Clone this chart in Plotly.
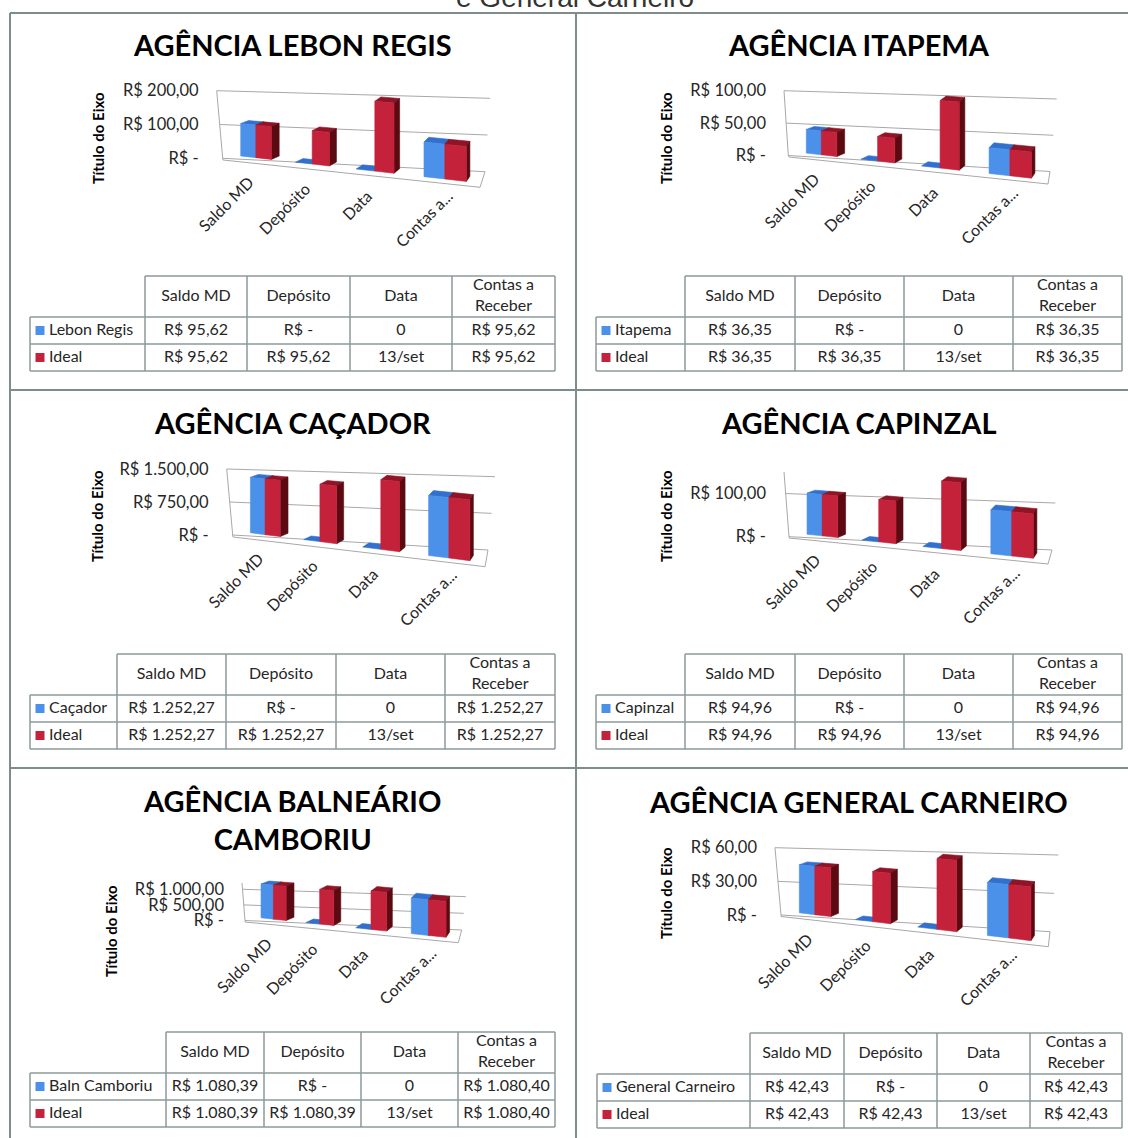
import plotly.graph_objects as go

# ---------------- DATA ----------------
categories = ["Saldo MD", "Depósito", "Data", "Contas a..."]
table_headers = ["Saldo MD", "Depósito", "Data", "Contas a<br>Receber"]
agencias = ["Lebon Regis", "Itapema", "Caçador", "Capinzal", "Baln Camboriu", "General Carneiro"]
titulos = ["AGÊNCIA LEBON REGIS", "AGÊNCIA ITAPEMA", "AGÊNCIA CAÇADOR", "AGÊNCIA CAPINZAL",
           "AGÊNCIA BALNEÁRIO<br>CAMBORIU", "AGÊNCIA GENERAL CARNEIRO"]
serie_ideal = "Ideal"

agencia_values = [
    [95.62, 0, 0, 95.62],
    [36.35, 0, 0, 36.35],
    [1252.27, 0, 0, 1252.27],
    [94.96, 0, 0, 94.96],
    [1080.39, 0, 0, 1080.40],
    [42.43, 0, 0, 42.43],
]
ideal_values = [
    [95.62, 95.62, 196, 95.62],
    [36.35, 36.35, 97, 36.35],
    [1252.27, 1252.27, 1480, 1252.27],
    [94.96, 94.96, 148, 94.96],
    [1080.39, 1080.39, 1180, 1080.40],
    [42.43, 42.43, 58, 42.43],
]
agencia_text = [
    ["R$ 95,62", "R$ -", "0", "R$ 95,62"],
    ["R$ 36,35", "R$ -", "0", "R$ 36,35"],
    ["R$ 1.252,27", "R$ -", "0", "R$ 1.252,27"],
    ["R$ 94,96", "R$ -", "0", "R$ 94,96"],
    ["R$ 1.080,39", "R$ -", "0", "R$ 1.080,40"],
    ["R$ 42,43", "R$ -", "0", "R$ 42,43"],
]
ideal_text = [
    ["R$ 95,62", "R$ 95,62", "13/set", "R$ 95,62"],
    ["R$ 36,35", "R$ 36,35", "13/set", "R$ 36,35"],
    ["R$ 1.252,27", "R$ 1.252,27", "13/set", "R$ 1.252,27"],
    ["R$ 94,96", "R$ 94,96", "13/set", "R$ 94,96"],
    ["R$ 1.080,39", "R$ 1.080,39", "13/set", "R$ 1.080,40"],
    ["R$ 42,43", "R$ 42,43", "13/set", "R$ 42,43"],
]
axis_max = [200, 100, 1500, 150, 1200, 60]
axis_ticks = [[0, 100, 200], [0, 50, 100], [0, 750, 1500], [0, 100], [0, 500, 1000], [0, 30, 60]]
axis_ticktext = [
    ["R$ -", "R$ 100,00", "R$ 200,00"],
    ["R$ -", "R$ 50,00", "R$ 100,00"],
    ["R$ -", "R$ 750,00", "R$ 1.500,00"],
    ["R$ -", "R$ 100,00"],
    ["R$ -", "R$ 500,00", "R$ 1.000,00"],
    ["R$ -", "R$ 30,00", "R$ 60,00"],
]
axis_title = "Título do Eixo"
page_title_tail = "e General Carneiro"

# ---------------- LAYOUT / GEOMETRY (pixels) ----------------
W, H = 1128, 1138
GEO = [
    dict(BTL=(216.7, 90.7), BFL=(222.7, 158.3), BTR=(490, 98.3), BFR=(485, 171.7), FFL=(223, 160), FFR=(480, 187.3),
         ax_x=(12, 574), ax_y=(62, 386), title=(292, 45), ytitle=(98, 138), tx=[30, 145, 247, 350, 452, 555], ty=276),
    dict(BTL=(784, 90.7), BFL=(788.3, 155.5), BTR=(1056.7, 99), BFR=(1050, 171.5), FFL=(789, 157), FFR=(1048, 184),
         ax_x=(578, 1126), ax_y=(62, 386), title=(859, 45), ytitle=(666, 138), tx=[596, 685, 795, 904, 1013, 1122], ty=276),
    dict(BTL=(226.7, 469), BFL=(232.7, 535), BTR=(495, 476.7), BFR=(488, 550), FFL=(233, 537), FFR=(485, 566.7),
         ax_x=(12, 574), ax_y=(440, 764), title=(292, 423), ytitle=(97, 516), tx=[30, 117, 226, 336, 445, 555], ty=654),
    dict(BTL=(784, 472), BFL=(789, 536.7), BTR=(1057, 479.5), BFR=(1052, 550), FFL=(789, 538), FFR=(1048, 564),
         ax_x=(578, 1126), ax_y=(440, 764), title=(859, 423), ytitle=(666, 516), tx=[596, 685, 795, 904, 1013, 1122], ty=654),
    dict(BTL=(242, 883), BFL=(245, 920.5), BTR=(466.7, 890), BFR=(461.7, 930), FFL=(245, 922), FFR=(458.3, 942.7),
         ax_x=(12, 574), ax_y=(860, 1137), title=(292, 819.5), ytitle=(111, 931), tx=[30, 166, 264, 361, 458, 555], ty=1032),
    dict(BTL=(775, 847.7), BFL=(781, 915), BTR=(1058.3, 855), BFR=(1050, 931.7), FFL=(781, 916.5), FFR=(1048.3, 946.7),
         ax_x=(578, 1126), ax_y=(825, 1137), title=(859, 801), ytitle=(666, 893), tx=[597, 750, 844, 937, 1030, 1122], ty=1033),
]
LABEL_DX = [4, 4, 4, 14]
LABEL_DY = [12, 12, 12, 5]
HEAD_H, ROW_H = 41, 27

BLUE_FRONT, BLUE_TOP, BLUE_SIDE = "#4B91EA", "#3170CC", "#24549A"
RED_FRONT, RED_TOP, RED_SIDE = "#C4213A", "#8E1426", "#5A0A10"
GRID = "#A8A8A8"
TBL_LINE = "#8C9A9A"
PANEL_LINE = "#7F8C8C"
FONT = "Lato"
TXT = "#262626"

G_PERSP = -0.195


def lerp(a, b, t):
    return (a[0] + (b[0] - a[0]) * t, a[1] + (b[1] - a[1]) * t)


def make_proj(g, vmax):
    xb0 = g["BFL"][0] + 7.0
    xb1 = g["BFR"][0] - 2.0
    yb0 = g["BFL"][1] - 3.6
    yb1 = g["FFR"][1] - 4.0
    sL = (g["BFL"][1] - g["BTL"][1]) / vmax
    sR = (g["BFR"][1] - g["BTR"][1]) / vmax
    A = xb1 * (1 + G_PERSP) - xb0

    def bx(u):
        return (A * u + xb0) / (1 + G_PERSP * u)

    def by(x):
        return yb0 + (x - xb0) * (yb1 - yb0) / (xb1 - xb0)

    def sc(u):
        return sL + (sR - sL) * u

    return bx, by, sc


def dep(u):
    return (8.0 - 5.0 * u * u, -(2.8 + 2.5 * u))


def add_poly(store, pts):
    for p in pts:
        store[0].append(p[0])
        store[1].append(p[1])
    store[0].append(pts[0][0])
    store[1].append(pts[0][1])
    store[0].append(None)
    store[1].append(None)


fig = go.Figure()
annotations = []
layout_axes = {}
BW = 0.0715

for k in range(6):
    g = GEO[k]
    vmax = axis_max[k]
    n = k + 1
    xr = "x" if n == 1 else f"x{n}"
    yr = "y" if n == 1 else f"y{n}"
    xkey = "xaxis" if n == 1 else f"xaxis{n}"
    ykey = "yaxis" if n == 1 else f"yaxis{n}"
    x0, x1 = g["ax_x"]
    y0, y1 = g["ax_y"]
    tickpix = [lerp(g["BFL"], g["BTL"], v / vmax)[1] for v in axis_ticks[k]]
    layout_axes[xkey] = dict(domain=[x0 / W, x1 / W], range=[x0, x1], visible=False, anchor=yr, fixedrange=True)
    layout_axes[ykey] = dict(domain=[1 - y1 / H, 1 - y0 / H], range=[y1, y0], anchor="free",
                             position=(g["BTL"][0] - 18) / W, showgrid=False, zeroline=False,
                             showline=False, ticks="", tickvals=tickpix, ticktext=axis_ticktext[k],
                             tickfont=dict(family=FONT, size=16.5, color=TXT), fixedrange=True)

    # walls / floor / gridlines
    lx, ly = [], []
    for seg in [(g["BFL"], g["BTL"]), (g["FFL"], g["FFR"]), (g["FFR"], g["BFR"]), (g["BFL"], g["FFL"])]:
        lx += [seg[0][0], seg[1][0], None]
        ly += [seg[0][1], seg[1][1], None]
    for v in axis_ticks[k]:
        a = lerp(g["BFL"], g["BTL"], v / vmax)
        b = lerp(g["BFR"], g["BTR"], v / vmax)
        lx += [a[0], b[0], None]
        ly += [a[1], b[1], None]
    fig.add_trace(go.Scatter(x=lx, y=ly, mode="lines", line=dict(color=GRID, width=1),
                             xaxis=xr, yaxis=yr, hoverinfo="skip", showlegend=False))

    bx, by, sc = make_proj(g, vmax)
    for series, vals, cols in [(0, agencia_values[k], (BLUE_TOP, BLUE_SIDE, BLUE_FRONT)),
                               (1, ideal_values[k], (RED_TOP, RED_SIDE, RED_FRONT))]:
        tops, sides, fronts = ([], []), ([], []), ([], [])
        for i, v in enumerate(vals):
            c = (i + 0.5) / 4
            u0, u1 = (c - BW, c) if series == 0 else (c, c + BW)
            xa, xb = bx(u0), bx(u1)
            ya, yb = by(xa), by(xb)
            ha, hb = v * sc(u0), v * sc(u1)
            da, db = dep(u0), dep(u1)
            add_poly(tops, [(xa, ya - ha), (xb, yb - hb), (xb + db[0], yb - hb + db[1]), (xa + da[0], ya - ha + da[1])])
            if v > 0:
                add_poly(sides, [(xb, yb), (xb + db[0], yb + db[1]), (xb + db[0], yb - hb + db[1]), (xb, yb - hb)])
                add_poly(fronts, [(xa, ya), (xb, yb), (xb, yb - hb), (xa, ya - ha)])
        for store, col in [(tops, cols[0]), (sides, cols[1]), (fronts, cols[2])]:
            if store[0]:
                fig.add_trace(go.Scatter(x=store[0], y=store[1], mode="lines", fill="toself",
                                         fillcolor=col, line=dict(color=col, width=0.6),
                                         xaxis=xr, yaxis=yr, hoverinfo="skip", showlegend=False))

    # category labels
    for i, cat in enumerate(categories):
        c = (i + 0.5) / 4
        xc = bx(c)
        annotations.append(dict(x=xc + LABEL_DX[i], y=by(xc) + LABEL_DY[i], xref=xr, yref=yr, text=cat,
                                showarrow=False, textangle=-45, xanchor="right", yanchor="top",
                                font=dict(family=FONT, size=16, color=TXT)))

    # titles
    annotations.append(dict(x=g["title"][0] / W, y=1 - g["title"][1] / H, xref="paper", yref="paper",
                            text="<b>" + titulos[k].replace("<br>", "</b><br><b>") + "</b>", showarrow=False,
                            xanchor="center", yanchor="middle", font=dict(family=FONT, size=29, color="#000000")))
    annotations.append(dict(x=g["ytitle"][0] / W, y=1 - g["ytitle"][1] / H, xref="paper", yref="paper",
                            text="<b>" + axis_title + "</b>", showarrow=False, textangle=-90,
                            xanchor="center", yanchor="middle", font=dict(family=FONT, size=15, color="#000000")))

    # ---- data table (drawn on the same pixel axes) ----
    tx = g["tx"]
    ty = g["ty"]
    yh = ty + HEAD_H
    yr1 = yh + ROW_H
    yr2 = yr1 + ROW_H
    gx, gy = [], []
    gx += [tx[1], tx[5], None]; gy += [ty, ty, None]
    for yy in (yh, yr1, yr2):
        gx += [tx[0], tx[5], None]; gy += [yy, yy, None]
    gx += [tx[0], tx[0], None]; gy += [yh, yr2, None]
    for j in range(1, 6):
        gx += [tx[j], tx[j], None]; gy += [ty, yr2, None]
    fig.add_trace(go.Scatter(x=gx, y=gy, mode="lines", line=dict(color=TBL_LINE, width=1.5),
                             xaxis=xr, yaxis=yr, hoverinfo="skip", showlegend=False))
    # header + value cells
    cx, cy, ct = [], [], []
    for j in range(4):
        xm = (tx[j + 1] + tx[j + 2]) / 2
        cx += [xm, xm, xm]
        cy += [ty + HEAD_H / 2, yh + ROW_H / 2, yr1 + ROW_H / 2]
        ct += [table_headers[j], agencia_text[k][j], ideal_text[k][j]]
    fig.add_trace(go.Scatter(x=cx, y=cy, text=ct, mode="text", textposition="middle center",
                             textfont=dict(family=FONT, size=16, color=TXT), cliponaxis=False,
                             xaxis=xr, yaxis=yr, hoverinfo="skip", showlegend=False))
    # legend column
    fig.add_trace(go.Scatter(x=[tx[0] + 10, tx[0] + 10], y=[yh + ROW_H / 2, yr1 + ROW_H / 2], mode="markers",
                             marker=dict(symbol="square", size=9, color=[BLUE_FRONT, RED_FRONT], line=dict(width=0)),
                             xaxis=xr, yaxis=yr, hoverinfo="skip", showlegend=False, cliponaxis=False))
    fig.add_trace(go.Scatter(x=[tx[0] + 19, tx[0] + 19], y=[yh + ROW_H / 2, yr1 + ROW_H / 2],
                             text=[agencias[k], serie_ideal], mode="text", textposition="middle right",
                             textfont=dict(family=FONT, size=16, color=TXT), cliponaxis=False,
                             xaxis=xr, yaxis=yr, hoverinfo="skip", showlegend=False))

# page title fragment (cut at top)
annotations.append(dict(x=575 / W, y=1 + 3 / H, xref="paper", yref="paper", text=page_title_tail,
                        showarrow=False, xanchor="center", yanchor="middle",
                        font=dict(family="Liberation Sans", size=28, color="#333333")))

shapes = []
for (xa, ya, xb, yb) in [(10, 13, 1128, 13), (10, 390, 1128, 390), (10, 768, 1128, 768),
                         (10, 13, 10, 1138), (576, 13, 576, 1138)]:
    shapes.append(dict(type="line", xref="paper", yref="paper", x0=xa / W, y0=1 - ya / H,
                       x1=xb / W, y1=1 - yb / H, line=dict(color=PANEL_LINE, width=2)))

fig.update_layout(width=W, height=H, margin=dict(l=0, r=0, t=0, b=0), paper_bgcolor="white",
                  plot_bgcolor="rgba(0,0,0,0)", showlegend=False, annotations=annotations, shapes=shapes,
                  font=dict(family=FONT), **layout_axes)

fig.write_html("out.html")
